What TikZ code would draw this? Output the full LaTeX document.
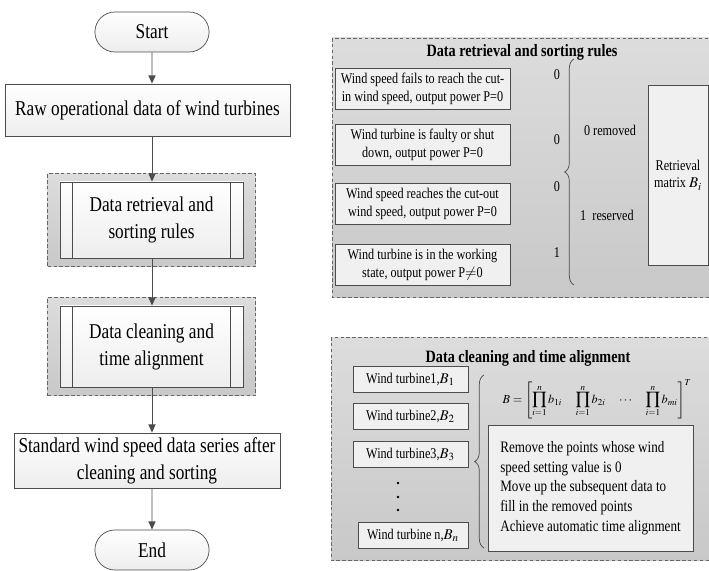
\documentclass[tikz,border=0pt]{standalone}
\usepackage{amsmath}
\usepackage{mathptmx}
\usepackage{fontspec}
\setmainfont{Liberation Serif}[FakeStretch=0.82]
\usetikzlibrary{positioning, arrows.meta, shapes.misc, fit, backgrounds, decorations.pathreplacing}
\newcommand{\flowfont}{\fontsize{18}{23}\selectfont}
\newcommand{\rulefont}{\fontsize{12.7}{15.3}\selectfont}
\newcommand{\headfont}{\fontsize{14.8}{17}\selectfont\bfseries}
\newcommand{\notefont}{\fontsize{13.6}{16.8}\selectfont}
\tikzset{
  boxline/.style={draw=black!70, line width=0.6pt}, % outline of every box
  flowbox/.style={boxline, rectangle, top color=white, bottom color=gray!14, font=\flowfont, align=center},
  terminal/.style={flowbox, rounded rectangle, minimum width=3.66cm, minimum height=1.2cm},
  subproc/.style={flowbox, minimum width=5.49cm,
    path picture={
      \draw[boxline] ([xshift=0.37cm]path picture bounding box.north west) -- ([xshift=0.37cm]path picture bounding box.south west);
      \draw[boxline] ([xshift=-0.37cm]path picture bounding box.north east) -- ([xshift=-0.37cm]path picture bounding box.south east);
    }},
  frame/.style={draw=black!60, dash pattern=on 3pt off 2pt, line width=0.6pt, top color=gray!27, bottom color=gray!43},
  rulebox/.style={boxline, fill=gray!12, font=\rulefont, align=center, minimum width=5.25cm, minimum height=1.23cm, inner sep=1pt},
  wtbox/.style={boxline, fill=gray!12, font=\rulefont, minimum width=3.45cm, minimum height=0.78cm, inner sep=1pt},
  flow/.style={-{Triangle[length=7pt, width=6pt]}, draw=black!70, line width=0.8pt},
  bracket/.style={decorate, decoration={brace, amplitude=8pt}, draw=black!70, line width=0.6pt}
}

\begin{document}
\begin{tikzpicture}[x=0.03cm, y=-0.03cm]
	\useasboundingbox (0,0) rectangle (709,571);
	\clip (0,0) rectangle (709,571);

	% main flow
	\node[terminal] (start) at (152,32) {Start};
	\node[flowbox, minimum width=8.55cm, minimum height=1.56cm] (raw) at (147.5,110) {Raw operational data of wind turbines};
	\node[subproc, minimum height=2.28cm] (retr) at (151.5,220) {Data retrieval and\\sorting rules};
	\node[subproc, minimum height=2.43cm] (clean) at (151.5,346.5) {Data cleaning and\\time alignment};
	\node[flowbox, minimum width=7.98cm, minimum height=1.65cm] (std) at (147,460.5) {Standard wind speed data series after\\cleaning and sorting};
	\node[terminal] (end) at (152,550) {End};

	\begin{scope}[on background layer]
		\node[frame, fit=(retr), inner xsep=0.36cm, inner ysep=0.25cm] (retrframe) {};
		\node[frame, fit=(clean), inner xsep=0.36cm, inner ysep=0.25cm] (cleanframe) {};
	\end{scope}

	\draw[flow] (start) -- (start |- raw.north);
	\draw[flow] (raw.south -| start) -- (start |- retr.north);
	\draw[flow] (retr.south -| start) -- (start |- clean.north);
	\draw[flow] (clean.south -| start) -- (start |- std.north);
	\draw[flow] (std.south -| start) -- (end);

	% retrieval rules
	\draw[frame] (332,38) rectangle (715,297);
	\node[font=\headfont] (rtitle) at (522,52) {Data retrieval and sorting rules};
	\node[rulebox] (r1) at (422.5,88.5) {Wind speed fails to reach the cut-\\in wind speed, output power P=0};
	\node[rulebox] (r2) at (422.5,144.5) {Wind turbine is faulty or shut\\down, output power P=0};
	\node[rulebox] (r3) at (422.5,203.5) {Wind speed reaches the cut-out\\wind speed, output power P=0};
	\node[rulebox] (r4) at (422.5,265) {Wind turbine is in the working\\state, output power P$\neq$0};
	\foreach \v/\y [count=\k] in {0/75, 0/140, 0/187, 1/253}
		\node[font=\rulefont] (flag\k) at (557,\y) {\v};
	\draw[bracket] (574,285) -- (574,59);
	\node[font=\rulefont] (removed) at (610,130) {0 removed};
	\node[font=\rulefont] (reserved) at (607,215) {1~ reserved};
	\node[rulebox, minimum width=1.8cm, minimum height=5.4cm] (matrix) at (678,175) {Retrieval\\matrix $B_i$};

	% cleaning and alignment
	\draw[frame] (331,337) rectangle (715,560);
	\node[font=\headfont] (ctitle) at (528,358) {Data cleaning and time alignment};
	\node[wtbox] (w1) at (410.5,379) {Wind turbine1,$B_1$};
	\node[wtbox] (w2) at (410.5,416.5) {Wind turbine2,$B_2$};
	\node[wtbox] (w3) at (410.5,454.5) {Wind turbine3,$B_3$};
	\node[wtbox, minimum width=3.3cm] (wn) at (413,535.5) {Wind turbine n,$B_n$};
	\foreach \y in {483,497,510}
		\fill (398,\y) circle (1.2pt);
	\draw[bracket] (484,548) -- (484,375);
	\node[font=\fontsize{10.5}{12}\selectfont] (formula) at (597,399)
		{$\displaystyle B=\left[\prod_{i=1}^{n} b_{1i}\quad \prod_{i=1}^{n} b_{2i}\quad \cdots\quad \prod_{i=1}^{n} b_{mi}\right]^{T}$};
	\node[boxline, fill=gray!12, font=\notefont, minimum width=6.15cm, minimum height=3.78cm, align=left] (note) at (590.5,488)
		{Remove the points whose wind\\speed setting value is 0\\Move up the subsequent data to\\fill in the removed points\\Achieve automatic time alignment};
\end{tikzpicture}
\end{document}
